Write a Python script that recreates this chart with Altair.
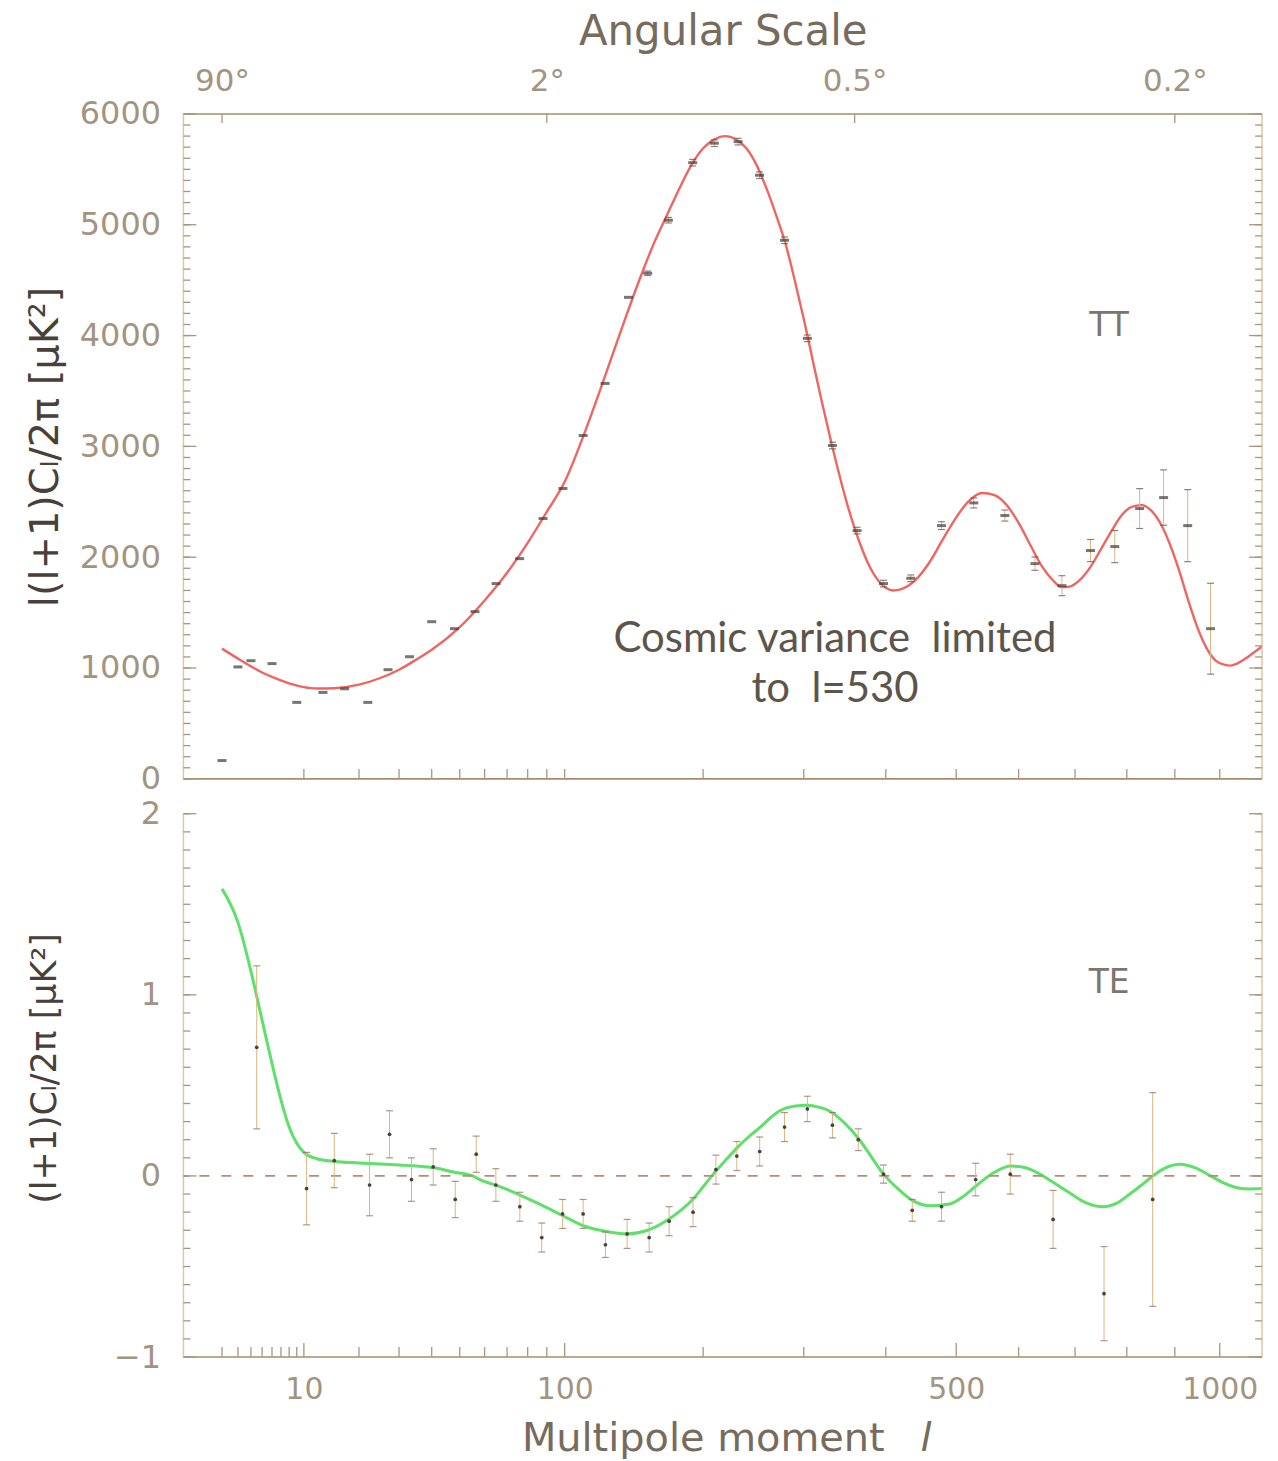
import altair as alt
import pandas as pd

# ---------------- TT binned spectrum: multipole l, l(l+1)Cl/2pi [uK^2], 1-sigma error ----------------
tt_l = [2, 3, 4, 6, 9, 13, 17, 22, 27, 33,
        40, 48, 56, 65, 76, 88, 99, 111, 125, 141,
        155, 171, 191, 210, 232, 253, 279, 304, 333, 363,
        397, 434, 478, 527, 577, 628, 676, 729, 776, 826,
        876, 928, 979]
tt_val = [165, 1010, 1066, 1040, 690, 780, 813, 690, 985, 1102,
          1418, 1355, 1509, 1762, 1987, 2349, 2620, 3098, 3568, 4345,
          4562, 5041, 5560, 5736, 5750, 5447, 4860, 3975, 3008, 2240,
          1762, 1810, 2285, 2490, 2376, 1942, 1743, 2060, 2096, 2439,
          2538, 2285, 1355]
tt_err = [0, 0, 0, 0, 0, 0, 0, 0, 0, 0,
          0, 0, 0, 0, 0, 0, 0, 0, 0, 0,
          20, 25, 30, 30, 30, 30, 30, 30, 30, 30,
          30, 30, 35, 45, 50, 60, 90, 100, 145, 180,
          250, 325, 410]

# ---------------- TT best-fit model curve ----------------
tt_model_l = [2, 3, 4, 5, 6, 8, 10, 12, 15, 20, 25, 30, 35, 40, 50, 60, 70, 80, 90, 100,
              110, 120, 130, 140, 150, 160, 170, 180, 190, 200, 210, 220, 230, 240, 250,
              260, 270, 280, 290, 300, 310, 320, 330, 340, 350, 360, 370, 380, 390, 400,
              410, 420, 440, 460, 480, 500, 520, 540, 560, 580, 600, 620, 640, 660, 675,
              690, 710, 730, 750, 770, 790, 810, 830, 850, 870, 890, 910, 930, 950, 970,
              990, 1010, 1025, 1040, 1060, 1080, 1100]
tt_model_val = [1175, 1085, 1015, 960, 920, 862, 828, 815, 818, 850, 910, 985, 1075, 1165, 1370, 1610, 1860, 2130, 2410, 2680,
                3050, 3440, 3830, 4200, 4540, 4840, 5090, 5330, 5540, 5690, 5770, 5800, 5770, 5690, 5540,
                5330, 5090, 4830, 4500, 4150, 3780, 3420, 3090, 2780, 2500, 2260, 2060, 1900, 1790, 1725,
                1700, 1710, 1790, 1950, 2160, 2360, 2510, 2580, 2560, 2470, 2310, 2110, 1920, 1790, 1730,
                1735, 1800, 1920, 2080, 2240, 2380, 2455, 2470, 2420, 2300, 2110, 1870, 1600, 1360, 1180,
                1070, 1030, 1022, 1040, 1085, 1140, 1195]

# ---------------- TE binned spectrum: multipole l, (l+1)Cl/2pi [uK^2], 1-sigma error ----------------
te_l = [4.5, 10.4, 15, 22.4, 27.4, 33.6, 40.5, 48.3, 56.5, 64.9,
        76.1, 87.3, 98.8, 111, 125.2, 140, 156.1, 171.6, 191.3, 211.4,
        230.8, 253.2, 279, 304, 333, 364.5, 397, 436, 478, 530,
        586, 660, 755, 853]
te_val = [0.71, -0.07, 0.085, -0.05, 0.23, -0.02, 0.05, -0.13, 0.12, -0.05,
          -0.17, -0.34, -0.21, -0.21, -0.38, -0.32, -0.34, -0.25, -0.2, 0.035,
          0.11, 0.135, 0.27, 0.37, 0.28, 0.2, 0.01, -0.19, -0.17, -0.02,
          0.01, -0.24, -0.65, -0.13]
te_err = [0.45, 0.2, 0.15, 0.17, 0.13, 0.12, 0.1, 0.1, 0.1, 0.09,
          0.08, 0.08, 0.08, 0.08, 0.07, 0.08, 0.08, 0.08, 0.08, 0.08,
          0.08, 0.08, 0.08, 0.07, 0.07, 0.06, 0.05, 0.06, 0.08, 0.09,
          0.11, 0.16, 0.26, 0.59]

# ---------------- TE best-fit model curve ----------------
te_model_l = [2, 3, 4, 5, 6, 7, 8, 9, 10, 12, 15, 20, 25, 30, 35, 41, 48, 55, 58, 67,
              77, 87, 99, 111, 125, 140, 155, 170, 181, 191, 200, 209, 220, 231, 242,
              253, 264, 274, 289, 304, 317, 329, 348, 366, 382, 397, 416, 436, 463, 490,
              512, 534, 560, 587, 612, 634, 660, 693, 722, 753, 780, 806, 830, 853, 880,
              911, 945, 979, 1010, 1040, 1070, 1100]
te_model_val = [1.585, 1.40, 1.13, 0.86, 0.62, 0.42, 0.27, 0.18, 0.13, 0.095, 0.08, 0.072, 0.066, 0.06, 0.055, 0.045, 0.02, 0.0, -0.02, -0.06,
                -0.11, -0.16, -0.22, -0.275, -0.305, -0.32, -0.30, -0.245, -0.19, -0.13, -0.06, 0.01, 0.085, 0.155, 0.215,
                0.265, 0.32, 0.36, 0.385, 0.39, 0.38, 0.36, 0.29, 0.20, 0.10, 0.01, -0.07, -0.135, -0.165, -0.155,
                -0.11, -0.045, 0.02, 0.055, 0.045, 0.015, -0.035, -0.10, -0.15, -0.17, -0.15, -0.10, -0.05, 0.0, 0.045,
                0.065, 0.045, 0.0, -0.04, -0.065, -0.072, -0.07]

# ---------------- axes, ticks and annotations ----------------
angular_deg = [90, 2, 0.5, 0.2]
tt_ylabels = [0, 1000, 2000, 3000, 4000, 5000, 6000]
te_ylabels = [-1, 0, 1, 2]
x_labels = [10, 100, 500, 1000]
x_minor_low = [2, 3, 4, 5, 6, 7, 8, 9]
x_minor = [20, 30, 40, 50, 60, 70, 80, 90, 200, 300, 400, 600, 700, 800, 900]
tt_minor_y = list(range(0, 6001, 100))
te_minor_y = [round(-1.0 + 0.1 * i, 1) for i in range(31)]

NB = "\u00a0"
tt_note_text = ["TT", "Cosmic variance" + NB + NB + "limited", "to" + NB + NB + "l=530"]
tt_note_l = [765, 336, 336]
tt_note_v = [4090, 1260, 810]
te_note_text = ["TE"]
te_note_l = [765]
te_note_v = [1.065]

# ---------------- styling ----------------
W, H1, H2 = 1082, 667, 545
FONT = "DejaVu Sans"
LABEL = "#a39482"
TITLE = "#776b5e"
YTITLE = "#4a403a"
TICK = "#a8967e"
EDGE_DARK = "#a48d6c"
EDGE_LIGHT = "#dcc7a6"
ERR = "#dcb57e"

XS = alt.Scale(type="pow", exponent=0.4, domain=[0.5, 1100], nice=False, zero=False)
TTS = alt.Scale(domain=[0, 6000], nice=False, zero=False)
TES = alt.Scale(domain=[-1, 2], nice=False, zero=False)

ONE = pd.DataFrame({"k": [0]})


def hrule(ypix, color, w):
    return alt.Chart(ONE).mark_rule(color=color, strokeWidth=w).encode(
        x=alt.value(0), x2=alt.value(W), y=alt.value(ypix))


def vrule(xpix, H, color, w):
    return alt.Chart(ONE).mark_rule(color=color, strokeWidth=w).encode(
        x=alt.value(xpix), y=alt.value(0), y2=alt.value(H))


def yticks(vals, yscale, x0, x1):
    return alt.Chart(pd.DataFrame({"t": vals})).mark_rule(color=TICK, strokeWidth=1.3).encode(
        y=alt.Y("t:Q", scale=yscale), x=alt.value(x0), x2=alt.value(x1))


def xticks(vals, y0, y1):
    return alt.Chart(pd.DataFrame({"t": vals})).mark_rule(color=TICK, strokeWidth=1.3).encode(
        x=alt.X("t:Q", scale=XS), y=alt.value(y0), y2=alt.value(y1))


def error_layers(df, yscale, cap_color):
    base = alt.Chart(df).transform_filter("datum.err > 0").transform_calculate(
        lo="datum.v - datum.err", hi="datum.v + datum.err")
    bars = base.mark_rule(color=ERR, strokeWidth=1).encode(
        x=alt.X("l:Q", scale=XS), y=alt.Y("lo:Q", scale=yscale), y2="hi:Q")
    cap_lo = base.mark_tick(orient="horizontal", size=7, thickness=1.2, color=cap_color).encode(
        x=alt.X("l:Q", scale=XS), y=alt.Y("lo:Q", scale=yscale))
    cap_hi = base.mark_tick(orient="horizontal", size=7, thickness=1.2, color=cap_color).encode(
        x=alt.X("l:Q", scale=XS), y=alt.Y("hi:Q", scale=yscale))
    return [bars, cap_lo, cap_hi]


# ================= TT panel =================
tt_df = pd.DataFrame({"l": tt_l, "v": tt_val, "err": tt_err})
tt_model = pd.DataFrame({"l": tt_model_l, "v": tt_model_val})
tt_notes = pd.DataFrame({"l": tt_note_l, "v": tt_note_v, "txt": tt_note_text})
top_vals = [180.0 / a for a in angular_deg]

tt_curve = alt.Chart(tt_model).mark_line(color="#ee6662", strokeWidth=2.4, interpolate="monotone").encode(
    x=alt.X("l:Q", scale=XS, axis=alt.Axis(
        orient="top", values=top_vals, labelExpr="format(180 / datum.value, '') + '°'",
        title="Angular Scale", labelFontSize=31, labelColor=LABEL, labelPadding=17,
        titleFontSize=42, titleColor=TITLE, titlePadding=12, labelFlush=False,
        ticks=False, domain=False, grid=False)),
    y=alt.Y("v:Q", scale=TTS, axis=alt.Axis(
        values=tt_ylabels, format="d", title="l(l+1)Cₗ/2π [μK²]", labelFontSize=32, labelColor=LABEL,
        labelPadding=23, titleFontSize=40, titleColor=YTITLE, titleX=-118,
        ticks=False, domain=False, grid=False)),
)

tt_points = alt.Chart(tt_df).mark_tick(orient="horizontal", size=9, thickness=3, color="#3f3a38").encode(
    x=alt.X("l:Q", scale=XS), y=alt.Y("v:Q", scale=TTS))

tt_text_big = alt.Chart(tt_notes).transform_filter("datum.txt != 'TT'").mark_text(
    font="Lato", fontSize=42, color="#5d544c").encode(
    x=alt.X("l:Q", scale=XS), y=alt.Y("v:Q", scale=TTS), text="txt:N")
tt_text_tag = alt.Chart(tt_notes).transform_filter("datum.txt == 'TT'").mark_text(
    font=FONT, fontSize=33, color="#7d756e").encode(
    x=alt.X("l:Q", scale=XS), y=alt.Y("v:Q", scale=TTS), text="txt:N")

tt_layers = [
    tt_curve,
    hrule(0, EDGE_DARK, 1.6), hrule(H1, EDGE_DARK, 1.6),
    vrule(0, H1, EDGE_LIGHT, 1.5), vrule(W, H1, EDGE_LIGHT, 1.5),
    yticks(tt_minor_y, TTS, 0, 7), yticks(tt_ylabels, TTS, 0, 13),
    yticks(tt_minor_y, TTS, W - 7, W), yticks(tt_ylabels, TTS, W - 13, W),
    xticks(x_labels + x_minor, H1, H1 - 10),
    xticks(top_vals, 0, 9),
] + error_layers(tt_df, TTS, "#5a4e48") + [tt_points, tt_text_big, tt_text_tag]

tt_chart = alt.layer(*tt_layers).properties(width=W, height=H1)

# ================= TE panel =================
te_df = pd.DataFrame({"l": te_l, "v": te_val, "err": te_err})
te_model = pd.DataFrame({"l": te_model_l, "v": te_model_val})
te_notes = pd.DataFrame({"l": te_note_l, "v": te_note_v, "txt": te_note_text})

te_curve = alt.Chart(te_model).mark_line(color="#5ee06a", strokeWidth=3, interpolate="monotone").encode(
    x=alt.X("l:Q", scale=XS, axis=alt.Axis(
        orient="bottom", values=x_labels, format="d", title="Multipole moment",
        labelFontSize=30, labelColor=LABEL, labelPadding=18,
        titleFontSize=40, titleColor=TITLE, titleX=521, titleY=62, titleBaseline="top", labelFlush=False,
        ticks=False, domain=False, grid=False)),
    y=alt.Y("v:Q", scale=TES, axis=alt.Axis(
        values=te_ylabels, format="d", title="(l+1)Cₗ/2π [μK²]", labelFontSize=32, labelColor=LABEL,
        labelPadding=23, titleFontSize=35, titleColor=YTITLE, titleX=-121, titleY=255,
        ticks=False, domain=False, grid=False)),
)

zero_df = pd.DataFrame({"z": [0.0]})
zero_line = alt.Chart(zero_df).mark_rule(color="#b98a76", strokeWidth=1.8, strokeDash=[10, 12]).encode(
    y=alt.Y("z:Q", scale=TES))

te_points = alt.Chart(te_df).mark_circle(size=14, color="#4a4240", opacity=1).encode(
    x=alt.X("l:Q", scale=XS), y=alt.Y("v:Q", scale=TES))

te_tag = alt.Chart(te_notes).mark_text(font=FONT, fontSize=33, color="#7d756e").encode(
    x=alt.X("l:Q", scale=XS), y=alt.Y("v:Q", scale=TES), text="txt:N")

x_title_l = alt.Chart(ONE).mark_text(
    text="l", font=FONT, fontSize=40, fontStyle="italic", color=TITLE, baseline="top", align="center").encode(
    x=alt.value(745), y=alt.value(H2 + 62))

te_layers = [
    te_curve, zero_line,
    hrule(H2, EDGE_DARK, 1.6),
    vrule(0, H2, EDGE_LIGHT, 1.5), vrule(W, H2, EDGE_LIGHT, 1.5),
    yticks(te_minor_y, TES, 0, 7), yticks(te_ylabels, TES, 0, 13),
    yticks(te_minor_y, TES, W - 7, W), yticks(te_ylabels, TES, W - 13, W),
    xticks(x_minor_low + x_minor, H2, H2 - 10), xticks(x_labels, H2, H2 - 14),
] + error_layers(te_df, TES, "#8a6a58") + [te_points, te_tag, x_title_l]

te_chart = alt.layer(*te_layers).properties(width=W, height=H2)

chart = alt.vconcat(tt_chart, te_chart, spacing=35, bounds="flush").properties(
    padding={"left": 26, "top": 8, "right": 10, "bottom": 0},
    background="white",
).configure_view(stroke=None).configure_axis(
    labelFont=FONT, titleFont=FONT, titleFontWeight="normal", grid=False,
    domain=False, ticks=False, tickSize=0,
)

chart.save("out.html", embed_options={"renderer": "svg", "actions": False})
